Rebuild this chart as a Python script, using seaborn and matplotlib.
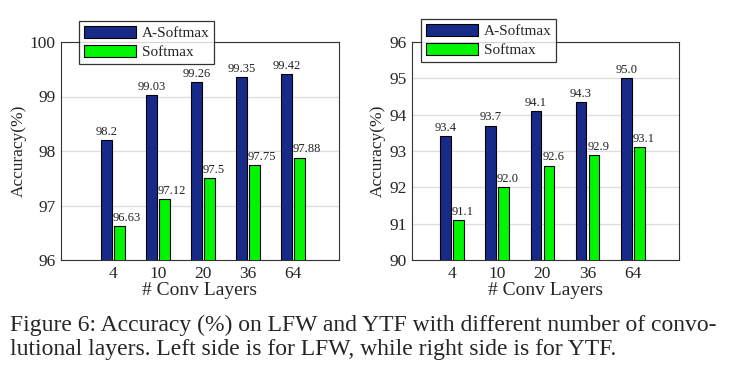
import numpy as np
import pandas as pd
import seaborn as sns
import matplotlib
matplotlib.use("Agg")
import matplotlib.pyplot as plt

layers = ["4", "10", "20", "36", "64"]
methods = ["A-Softmax", "Softmax"]

lfw_asoftmax = [98.2, 99.03, 99.26, 99.35, 99.42]
lfw_softmax = [96.63, 97.12, 97.5, 97.75, 97.88]
lfw_asoftmax_txt = ["98.2", "99.03", "99.26", "99.35", "99.42"]
lfw_softmax_txt = ["96.63", "97.12", "97.5", "97.75", "97.88"]

ytf_asoftmax = [93.4, 93.7, 94.1, 94.35, 95.0]
ytf_softmax = [91.1, 92.0, 92.6, 92.9, 93.1]
ytf_asoftmax_txt = ["93.4", "93.7", "94.1", "94.3", "95.0"]
ytf_softmax_txt = ["91.1", "92.0", "92.6", "92.9", "93.1"]

caption = ("Figure 6: Accuracy (%) on LFW and YTF with different number of convo-\n"
           "lutional layers. Left side is for LFW, while right side is for YTF.")

sns.set_style("white")
plt.rcParams['font.family'] = ['Liberation Serif', 'DejaVu Serif']

W, H = 733, 373
fig = plt.figure(figsize=(W / 100, H / 100), dpi=100)

colors = {"A-Softmax": "#172a88", "Softmax": "#00f500"}


def make_df(a, s):
    return pd.DataFrame({
        "layers": layers * 2,
        "method": [methods[0]] * 5 + [methods[1]] * 5,
        "acc": list(a) + list(s),
    })


def draw(rect, a, s, a_txt, s_txt, ylim, yticks, xlim):
    ax = fig.add_axes(rect)
    df = make_df(a, s)
    sns.barplot(data=df, x="layers", y="acc", hue="method", palette=colors,
                saturation=1, width=0.58, gap=0.2, edgecolor="black",
                linewidth=0.8, ax=ax, legend=False, zorder=3)
    ax.set_ylim(*ylim)
    ax.set_yticks(yticks)
    ax.set_xlim(*xlim)
    ax.grid(axis="y", color="#dddddd", linewidth=0.9, zorder=0)
    ax.set_axisbelow(True)
    for sp in ax.spines.values():
        sp.set_visible(True)
        sp.set_color("#333333")
        sp.set_linewidth(0.8)
    ax.tick_params(axis="both", labelsize=12.5, length=0, pad=4)
    ax.set_xlabel("# Conv Layers", fontsize=14, labelpad=0)
    ax.set_ylabel("Accuracy(%)", fontsize=12.5, labelpad=2)
    # A-Softmax labels centred, Softmax labels start at the bar's left edge
    for bar, t in zip(ax.containers[0], a_txt):
        ax.annotate(t, (bar.get_x() + bar.get_width() / 2, bar.get_height()),
                    xytext=(0, 1.5), textcoords="offset points",
                    ha="center", va="bottom", fontsize=9, color="#222222")
    for bar, t in zip(ax.containers[1], s_txt):
        ax.annotate(t, (bar.get_x(), bar.get_height()),
                    xytext=(-1, 1.5), textcoords="offset points",
                    ha="left", va="bottom", fontsize=9, color="#222222")
    return ax


ax1 = draw([61 / W, 1 - 260 / H, 278 / W, 218 / H],
           lfw_asoftmax, lfw_softmax, lfw_asoftmax_txt, lfw_softmax_txt,
           (96, 100), [96, 97, 98, 99, 100], (-1.16, 5.02))
ax2 = draw([412 / W, 1 - 260 / H, 267 / W, 218 / H],
           ytf_asoftmax, ytf_softmax, ytf_asoftmax_txt, ytf_softmax_txt,
           (90, 96), [90, 91, 92, 93, 94, 95, 96], (-0.88, 5.02))

handles = [plt.Rectangle((0, 0), 1, 1, facecolor=colors[m], edgecolor="black", linewidth=0.8)
           for m in methods]
for x0, y0 in [(79, 21), (421, 19)]:
    leg = fig.legend(handles, methods, loc="upper left",
                     bbox_to_anchor=(x0 / W, 1 - y0 / H), fontsize=11,
                     frameon=True, fancybox=False, edgecolor="black",
                     handlelength=3.4, handleheight=0.9, borderpad=0.3,
                     labelspacing=0.3, handletextpad=0.4, borderaxespad=0)
    leg.get_frame().set_linewidth(0.9)

fig.text(10 / W, 1 - 315 / H, caption, fontsize=17, va="top", ha="left",
         linespacing=1.2)

fig.savefig("out.png", dpi=100)
